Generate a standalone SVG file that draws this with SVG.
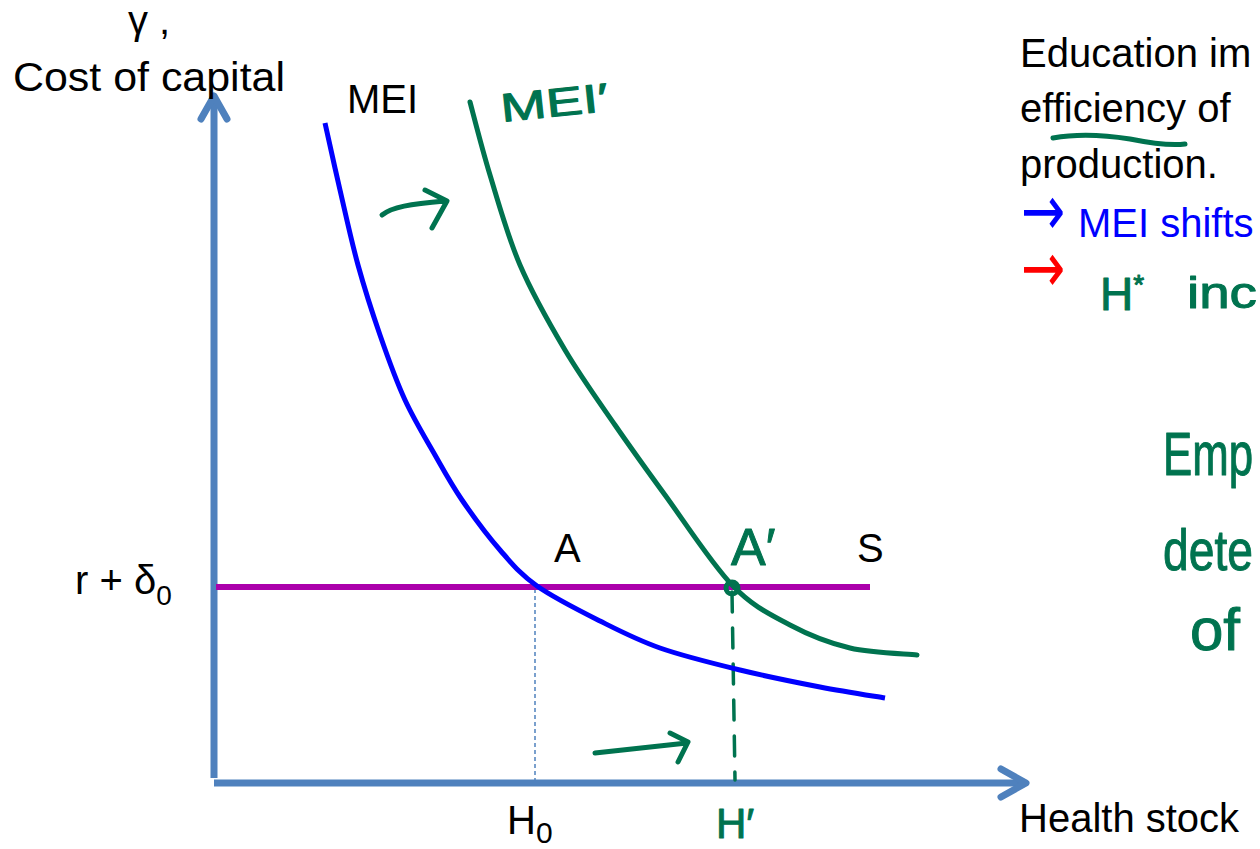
<svg xmlns="http://www.w3.org/2000/svg" width="1260" height="849" viewBox="0 0 1260 849">
<style>
.axis{stroke:#4f81bd;stroke-width:7;fill:none}
.chev{stroke:#4f81bd;stroke-width:7;fill:none;stroke-linecap:round;stroke-linejoin:round}
.lbl{font-family:"Liberation Sans",Arial,sans-serif;font-size:40px;fill:#000}
.blue{fill:#0000ff}
.red{fill:#ff0000}
.arr{font-family:"DejaVu Sans",sans-serif;font-size:44px}
.ink{stroke:#00734f;fill:none;stroke-width:5;stroke-linecap:round;stroke-linejoin:round}
.hand{font-family:"Liberation Sans",Arial,sans-serif;fill:#00734f;stroke:#00734f;stroke-width:1;stroke-linejoin:round;stroke-linecap:round}
</style>
<rect width="1260" height="849" fill="#fff"/>
<g id="axes">
  <line class="axis" x1="214" y1="778" x2="214" y2="98"/>
  <polyline class="chev" points="201,119 214,96 227,119"/>
  <line class="axis" x1="214" y1="783" x2="1024" y2="783"/>
  <polyline class="chev" points="1001,769 1026,783 1001,797"/>
</g>
<g id="guides">
  <line x1="535" y1="589" x2="535" y2="780" stroke="#4f81bd" stroke-width="1.5" stroke-dasharray="4 3"/>
  <line x1="732" y1="592" x2="735" y2="780" stroke="#00734f" stroke-width="3.5" stroke-linecap="round" stroke-dasharray="20 16"/>
</g>
<g id="connectors">
  <line id="S-line" x1="216" y1="587" x2="870" y2="587" stroke="#ab00ab" stroke-width="6"/>
  <path id="MEI-curve" d="M325,123 C327.5,134.2 334.5,166.3 340,190 C345.5,213.7 351.3,240.8 358,265 C364.7,289.2 372.2,312.5 380,335 C387.8,357.5 395.8,380 405,400 C414.2,420 425.5,438.3 435,455 C444.5,471.7 451.2,484.2 462,500 C472.8,515.8 487.5,535.7 500,550 C512.5,564.3 520.3,574.2 537,586 C553.7,597.8 579.5,610.7 600,621 C620.5,631.3 636.7,639.8 660,648 C683.3,656.2 713.3,663.5 740,670 C766.7,676.5 795.8,682.3 820,687 C844.2,691.7 874.2,696.2 885,698" fill="none" stroke="#0000ff" stroke-width="5"/>
  <path id="MEI2-curve" class="ink" d="M470,102 C473.3,114.2 481.7,147.8 490,175 C498.3,202.2 507.5,235.8 520,265 C532.5,294.2 549.2,323.3 565,350 C580.8,376.7 598.3,400.8 615,425 C631.7,449.2 645.5,468.3 665,495 C684.5,521.7 711.2,563.3 732,585 C752.8,606.7 770.3,614.5 790,625 C809.7,635.5 828.8,643 850,648 C871.2,653 905.8,653.8 917,655"/>
  <circle cx="732" cy="588" r="6" class="ink" stroke-width="4"/>
  <path class="ink" d="M382,215 C392,207 410,204 445,201 M425,190 L447,201 L432,228"/>
  <path class="ink" d="M595,753 L687,743 M670,733 L688,742 L678,762"/>
  <path class="ink" d="M1053,138 C1080,133 1105,135 1130,139 C1150,143 1170,146 1185,144"/>
</g>
<g id="axis-labels">
  <text class="lbl" x="128" y="34" font-size="34">γ ,</text>
  <text class="lbl" x="13" y="91" textLength="272" lengthAdjust="spacingAndGlyphs">Cost of capital</text>
  <text class="lbl" x="75" y="594">r + δ<tspan font-size="28" dy="11">0</tspan></text>
  <text class="lbl" x="507" y="834">H<tspan font-size="30" dy="9">0</tspan></text>
  <text class="lbl" x="1019" y="832" font-size="42">Health stock</text>
</g>
<g id="point-labels">
  <text class="lbl" x="347" y="113">MEI</text>
  <text class="lbl" x="554" y="562">A</text>
  <text class="lbl" x="857" y="562">S</text>
</g>
<g id="notes">
  <text class="lbl" x="1020" y="67">Education im</text>
  <text class="lbl" x="1020" y="122">efficiency of</text>
  <text class="lbl" x="1020" y="178">production.</text>
  <text class="arr blue" transform="translate(1021,235) scale(1.2,1.6)">→</text>
  <text class="lbl blue" x="1078" y="237" font-size="44">MEI shifts</text>
  <text class="arr red" transform="translate(1021,292) scale(1.2,1.6)">→</text>
</g>
<g id="handwriting">
  <text class="hand" x="502" y="122" font-size="40" transform="rotate(-6 502 122)" textLength="108" lengthAdjust="spacingAndGlyphs">MEI′</text>
  <text class="hand" x="731" y="565" font-size="52">A′</text>
  <text class="hand" x="716" y="838" font-size="42">H′</text>
  <text class="hand" x="1100" y="310" font-size="46">H<tspan font-size="28" dy="-16">*</tspan></text>
  <text class="hand" x="1187" y="308" font-size="44" textLength="70" lengthAdjust="spacingAndGlyphs">inc</text>
  <text class="hand" x="1163" y="475" font-size="62" textLength="90" lengthAdjust="spacingAndGlyphs">Emp</text>
  <text class="hand" x="1163" y="570" font-size="58" textLength="90" lengthAdjust="spacingAndGlyphs">dete</text>
  <text class="hand" x="1190" y="650" font-size="60">of</text>
</g>
</svg>
